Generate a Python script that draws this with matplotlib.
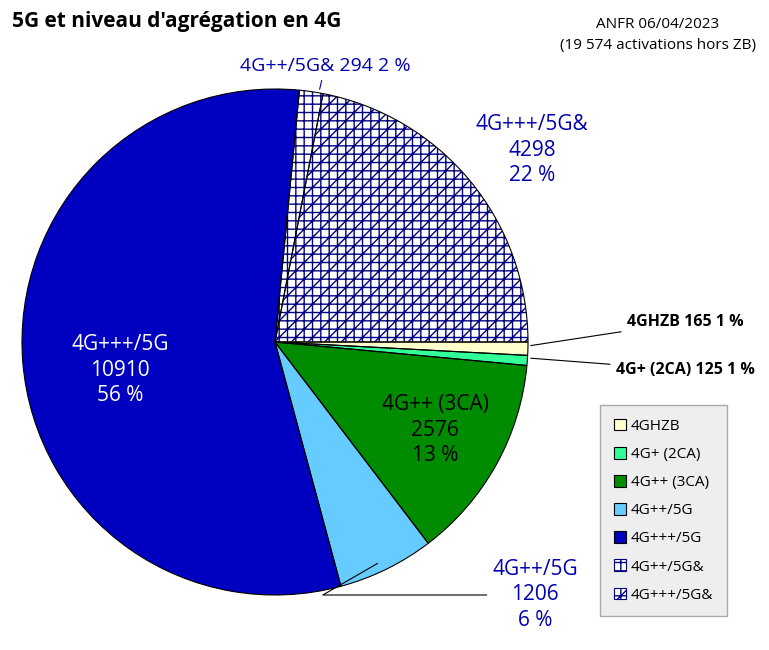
import numpy as np
import matplotlib
matplotlib.use("Agg")
import matplotlib.pyplot as plt
from matplotlib.patches import Patch

plt.rcParams['font.family'] = ['Open Sans', 'DejaVu Sans']

# data (counts, ANFR 06/04/2023)
labels = ["4GHZB", "4G+ (2CA)", "4G++ (3CA)", "4G++/5G", "4G+++/5G", "4G++/5G&", "4G+++/5G&"]
values = [165, 125, 2576, 1206, 10910, 294, 4298]
colors = ["#ffffcc", "#33ff99", "#008c00", "#66ccff", "#0000c0", "white", "white"]
hatches = [None, None, None, None, None, "++", "++//"]
pcts = [1, 1, 13, 6, 56, 2, 22]

W, H = 769, 650
fig = plt.figure(figsize=(W / 100, H / 100), dpi=100)
cx, cy, R = 275, 342, 253
ax = fig.add_axes([(cx - R) / W, (H - cy - R) / H, 2 * R / W, 2 * R / H])

def px(x, y):
    return ((x - cx) / R, (cy - y) / R)

# fill with hatch in navy
wedges, _ = ax.pie(values, colors=colors, startangle=0, counterclock=False, radius=1,
                   wedgeprops=dict(edgecolor="#000080", linewidth=0))
for w, h in zip(wedges, hatches):
    if h:
        w.set_hatch(h)
# black outlines on top
outl, _ = ax.pie(values, colors=["none"] * len(values), startangle=0, counterclock=False,
                 radius=1, wedgeprops=dict(edgecolor="black", linewidth=0.8, fill=False))
ax.set_xlim(-1, 1)
ax.set_ylim(-1, 1)
ax.set_aspect("auto")
ax.axis("off")

blue = "#0000b0"
fs = 15
ax.text(*px(120, 370), f"{labels[4]}\n{values[4]}\n{pcts[4]} %", color="white",
        fontsize=fs, ha="center", va="center", linespacing=1.3)
ax.text(*px(435, 430), f"{labels[2]}\n{values[2]}\n{pcts[2]} %", color="black",
        fontsize=fs, ha="center", va="center", linespacing=1.3)
ax.text(*px(532, 150), f"{labels[6]}\n{values[6]}\n{pcts[6]} %", color=blue,
        fontsize=fs, ha="center", va="center", linespacing=1.3, clip_on=False)
ax.annotate(f"{labels[3]}\n{values[3]}\n{pcts[3]} %", xy=px(380, 562), xytext=px(535, 595),
            color=blue, fontsize=fs, ha="center", va="center", linespacing=1.3,
            annotation_clip=False,
            arrowprops=dict(arrowstyle="-", color="black", lw=0.8,
                            connectionstyle="angle,angleA=0,angleB=30"))
ax.annotate(f"{labels[5]} {values[5]} {pcts[5]} %", xy=px(319, 92), xytext=px(325, 66),
            color=blue, fontsize=14, ha="center", va="center", annotation_clip=False,
            arrowprops=dict(arrowstyle="-", color=blue, lw=0.8))
ax.annotate(f"{labels[0]} {values[0]} {pcts[0]} %", xy=px(528, 346), xytext=px(685, 322),
            color="black", fontsize=11.5, fontweight="bold", ha="center", va="center",
            annotation_clip=False, arrowprops=dict(arrowstyle="-", color="black", lw=0.8))
ax.annotate(f"{labels[1]} {values[1]} {pcts[1]} %", xy=px(528, 358), xytext=px(685, 370),
            color="black", fontsize=11.5, fontweight="bold", ha="center", va="center",
            annotation_clip=False, arrowprops=dict(arrowstyle="-", color="black", lw=0.8))

fig.text(12 / W, 1 - 22 / H, "5G et niveau d'agrégation en 4G", fontsize=15,
         fontweight="bold", va="center", ha="left")
fig.text(658 / W, 1 - 35 / H, "ANFR 06/04/2023\n(19 574 activations hors ZB)", fontsize=11,
         ha="center", va="center", linespacing=1.5)

handles = []
for l, c, h in zip(labels, colors, hatches):
    handles.append(Patch(facecolor=c, edgecolor="#000080" if h else "black", hatch=h, label=l,
                         linewidth=0.8))
leg = fig.legend(handles=handles, loc="upper left", bbox_to_anchor=(600 / W, 1 - 405 / H),
                 fontsize=11, frameon=True, fancybox=False, handlelength=0.8, handleheight=0.8,
                 handletextpad=0.3, labelspacing=0.85, borderpad=0.9, borderaxespad=0)
leg.get_frame().set_facecolor("#eeeeee")
leg.get_frame().set_edgecolor("#aaaaaa")
leg.get_frame().set_alpha(1)

fig.savefig("out.png", dpi=100)
